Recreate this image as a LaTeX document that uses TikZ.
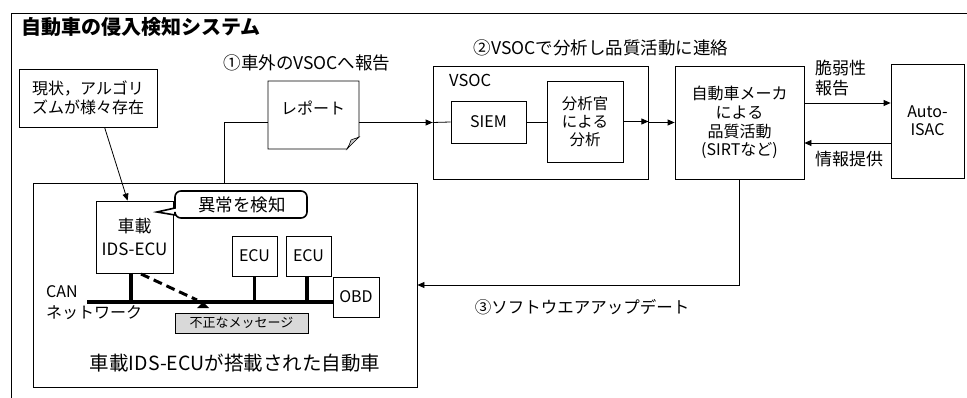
\documentclass[tikz,border=0pt]{standalone}
\usepackage{fontspec}
\setmainfont{Noto Sans CJK JP}
\usetikzlibrary{arrows.meta,calc}
\tikzset{
  box/.style={draw=black, line width=0.8pt, fill=white, inner sep=0pt, align=center},
  txt/.style={inner sep=0pt, align=center},
  link/.style={draw=black, line width=0.8pt},
  arr/.style={link, -{Triangle[length=7pt,width=6pt]}},
  bus/.style={draw=black, line width=3.2pt},
}
\newcommand{\fz}[2]{\fontsize{#1}{#2}\selectfont}
\begin{document}
\begin{tikzpicture}[x=1pt,y=-1pt]
\useasboundingbox (0,0) rectangle (967,398);
% outer frame (top and left visible)
\draw[line width=0.9pt] (11,398) -- (11,13) -- (967,13);
\node[txt, anchor=west, font=\fz{20}{23}\bfseries] (title) at (21,27) {自動車の侵入検知システム};

% algorithm note
\node[box, minimum width=138, minimum height=58, font=\fz{16}{19}] (algo) at (88,98) {現状，アルゴリ\\ズムが様々存在};

% report document
\node[txt, minimum width=91, minimum height=68] (rep) at (313.5,115) {};
\draw[line width=0.8pt, fill=white] (268,81) -- (359,81) -- (359,137) .. controls (354,141) and (350,145) .. (347,149) -- (268,149) -- cycle;
\draw[line width=0.6pt, fill=gray!45] (359,137) .. controls (355,139) and (352,139) .. (351,140) .. controls (350,143) and (349,146) .. (347,149) .. controls (351,145) and (355,141) .. (359,137) -- cycle;
\node[txt, font=\fz{16}{19}] (reptext) at (313,108) {レポート};
\node[txt, font=\fz{17.5}{20}] (lab1) at (307,63) {①車外のVSOCへ報告};

% VSOC
\node[box, minimum width=215, minimum height=113] (vsoc) at (540.5,122.5) {};
\node[txt, anchor=west, font=\fz{16.5}{19}] (vsoclab) at (449,80) {VSOC};
\node[box, minimum width=75, minimum height=42, font=\fz{16}{19}] (siem) at (488.5,122) {SIEM};
\node[box, minimum width=76, minimum height=81, font=\fz{15.5}{18}] (anal) at (585,121.5) {分析官\\による\\分析};
\node[txt, font=\fz{17.5}{20}] (lab2) at (601,48) {②VSOCで分析し品質活動に連絡};

% maker
\node[box, minimum width=129, minimum height=113, font=\fz{16}{18.7}] (maker) at (739.5,122.5) {自動車メーカ\\による\\品質活動\\(SIRTなど)};
% Auto-ISAC
\node[box, minimum width=73, minimum height=114, font=\fz{16}{18}] (isac) at (927.5,121) {Auto-\\ISAC};
\node[txt, anchor=west, align=left, font=\fz{17}{20}] (vuln) at (815,78) {脆弱性\\報告};
\node[txt, anchor=west, font=\fz{17}{20}] (info) at (815,159) {情報提供};

% car
\node[box, minimum width=384, minimum height=204] (car) at (225,285) {};
\node[txt, font=\fz{19.5}{22}] (carlab) at (235,363) {車載IDS-ECUが搭載された自動車};
\node[box, minimum width=77, minimum height=72, font=\fz{17}{23}] (ids) at (134.5,237) {車載\\IDS-ECU};
\node[box, minimum width=45, minimum height=40, font=\fz{16}{19}] (ecu1) at (254.5,256) {ECU};
\node[box, minimum width=45, minimum height=40, font=\fz{16}{19}] (ecu2) at (308.5,256) {ECU};
\node[box, minimum width=46, minimum height=40, font=\fz{16}{19}] (obd) at (356,297) {OBD};
\node[box, fill=gray!30, minimum width=133, minimum height=20, font=\fz{13}{15}] (msg) at (241.5,323) {不正なメッセージ};
\node[txt, anchor=west, font=\fz{16}{19}] (can) at (46,292) {CAN};
\node[txt, anchor=west, font=\fz{16}{19}] (net) at (46,313) {ネットワーク};

% callout
\draw[line width=1.6pt, fill=white] (157,212) -- (175,208) [rounded corners=6pt] -- (175,191) -- (307,191) -- (307,218) -- (175,218) [sharp corners] -- (175,215) -- cycle;
\node[txt, font=\fz{17.5}{20}] (callout) at (242,204.5) {異常を検知};

% CAN bus
\coordinate (busL) at (87,302);
\coordinate (busR) at (obd.west |- busL);
\draw[bus] (busL) -- (busR);
\coordinate (s1) at (131,273);
\coordinate (s3) at (307,276);
\draw[bus] (s1) -- (s1 |- busL);
\draw[bus] (ecu1.south) -- (ecu1.south |- busL);
\draw[bus] (s3) -- (s3 |- busL);
\coordinate (tri) at (203,302);
\coordinate (dstart) at (141,274);
\coordinate (dend) at (197,300);
\draw[draw=black, line width=3pt, dash pattern=on 9pt off 5pt] (dstart) -- (dend);
\fill[black] (tri) -- ($(tri)+(6,6)$) -- ($(tri)+(-6,6)$) -- cycle;

% connectors
\draw[arr] ($(algo.south west)+(86,0)$) -- ($(ids.north west)+(32,0)$);
\coordinate (c1) at (224,0);
\draw[link] (rep.west |- vsoc.west) -| (c1 |- car.north);
\draw[arr] (rep.east |- vsoc.west) -- (vsoc.west);
\draw[link] (vsoc.west) -- (siem.west);
\draw[link] (siem.east) -- (anal.west |- siem.east);
\draw[arr] (anal.east) -- (vsoc.east |- anal.east);
\draw[arr] (vsoc.east) -- (maker.west);
\coordinate (y1) at (0,103);
\coordinate (y2) at (0,143);
\draw[arr] (maker.east |- y1) -- (isac.west |- y1);
\draw[arr] (isac.west |- y2) -- (maker.east |- y2);
\draw[arr] (maker.south) |- (car.east);
\node[txt, font=\fz{16.5}{19}] (lab3) at (582,307) {③ソフトウエアアップデート};
\end{tikzpicture}
\end{document}
